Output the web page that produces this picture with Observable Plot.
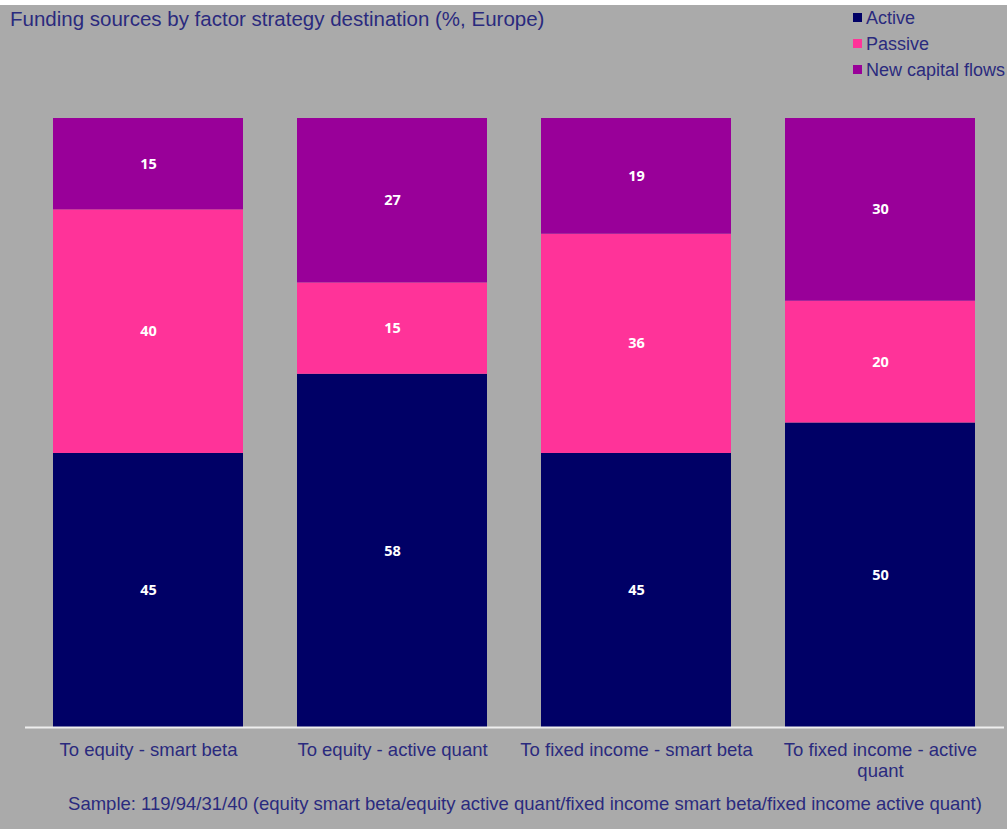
<!DOCTYPE html>
<html>
<head>
<meta charset="utf-8">
<script src="https://cdn.jsdelivr.net/npm/d3@7"></script>
<script src="https://cdn.jsdelivr.net/npm/@observablehq/plot@0.6"></script>
<style>
  html, body { margin: 0; padding: 0; background: #aaaaaa; }
  #wrap { position: relative; width: 1007px; height: 829px; background: #aaaaaa; overflow: hidden; font-family: Arial, "Liberation Sans", sans-serif; }
  #topstrip { position: absolute; left: 0; top: 0; width: 1007px; height: 5px; background: #ffffff; }
  #title { position: absolute; left: 10px; top: 7px; font-size: 20.5px; color: #2a2a7e; white-space: nowrap; }
  #legend { position: absolute; left: 853px; top: 5px; font-size: 18px; color: #2a2a7e; line-height: 26px; white-space: nowrap; }
  #legend .sw { display: inline-block; width: 9px; height: 9px; margin-right: 4px; vertical-align: 2px; }
  #caption { position: absolute; left: 0; width: 1050px; top: 793px; text-align: center; font-size: 18.5px; color: #2a2a7e; white-space: nowrap; }
  #chart { position: absolute; left: 0; top: 0; }
</style>
</head>
<body>
<div id="wrap">
  <div id="topstrip"></div>
  <div id="chart"></div>
  <div id="title"></div>
  <div id="legend"></div>
  <div id="caption"></div>
</div>
<script>
const categories = ["To equity - smart beta", "To equity - active quant", "To fixed income - smart beta", "To fixed income - active quant"];
const tickLabels = ["To equity - smart beta", "To equity - active quant", "To fixed income - smart beta", "To fixed income - active\nquant"];
const seriesNames = ["Active", "Passive", "New capital flows"];
const seriesColors = ["#000066", "#ff3399", "#990099"];
const activeValues = [45, 58, 45, 50];
const passiveValues = [40, 15, 36, 20];
const newCapitalValues = [15, 27, 19, 30];
const titleText = "Funding sources by factor strategy destination (%, Europe)";
const captionText = "Sample: 119/94/31/40 (equity smart beta/equity active quant/fixed income smart beta/fixed income active quant)";

const seriesValues = [activeValues, passiveValues, newCapitalValues];
const data = [];
seriesNames.forEach((s, si) => {
  categories.forEach((c, ci) => {
    data.push({category: c, series: s, value: seriesValues[si][ci]});
  });
});

const labelMap = new Map(categories.map((c, i) => [c, tickLabels[i]]));

const chart = Plot.plot({
  width: 1007,
  height: 829,
  marginTop: 118,
  marginBottom: 102,
  marginLeft: 25,
  marginRight: 3,
  style: {background: "transparent", fontFamily: "Arial, 'Liberation Sans', sans-serif"},
  x: {domain: categories, paddingInner: 0.22, paddingOuter: 0.11, label: null},
  y: {domain: [0, 100], axis: null},
  color: {domain: seriesNames, range: seriesColors},
  marks: [
    Plot.barY(data, Plot.stackY({x: "category", y: "value", fill: "series", order: seriesNames})),
    Plot.text(data, Plot.stackY({x: "category", y: "value", z: "series", order: seriesNames, text: d => String(d.value), fill: "white", fontSize: 14.5, fontWeight: "bold", fontFamily: "'Open Sans', 'DejaVu Sans', sans-serif"})),
    Plot.ruleY([0], {stroke: "#eeeeee", strokeWidth: 2}),
    Plot.axisX({tickSize: 0, tickPadding: 13, fontSize: 18.5, fill: "#2a2a7e", tickFormat: d => labelMap.get(d), lineHeight: 1.15})
  ]
});
document.getElementById("chart").appendChild(chart);

document.getElementById("title").textContent = titleText;
document.getElementById("caption").textContent = captionText;
const legend = document.getElementById("legend");
seriesNames.forEach((s, i) => {
  const row = document.createElement("div");
  const sw = document.createElement("span");
  sw.className = "sw";
  sw.style.background = seriesColors[i];
  row.appendChild(sw);
  row.appendChild(document.createTextNode(s));
  legend.appendChild(row);
});
</script>
</body>
</html>
